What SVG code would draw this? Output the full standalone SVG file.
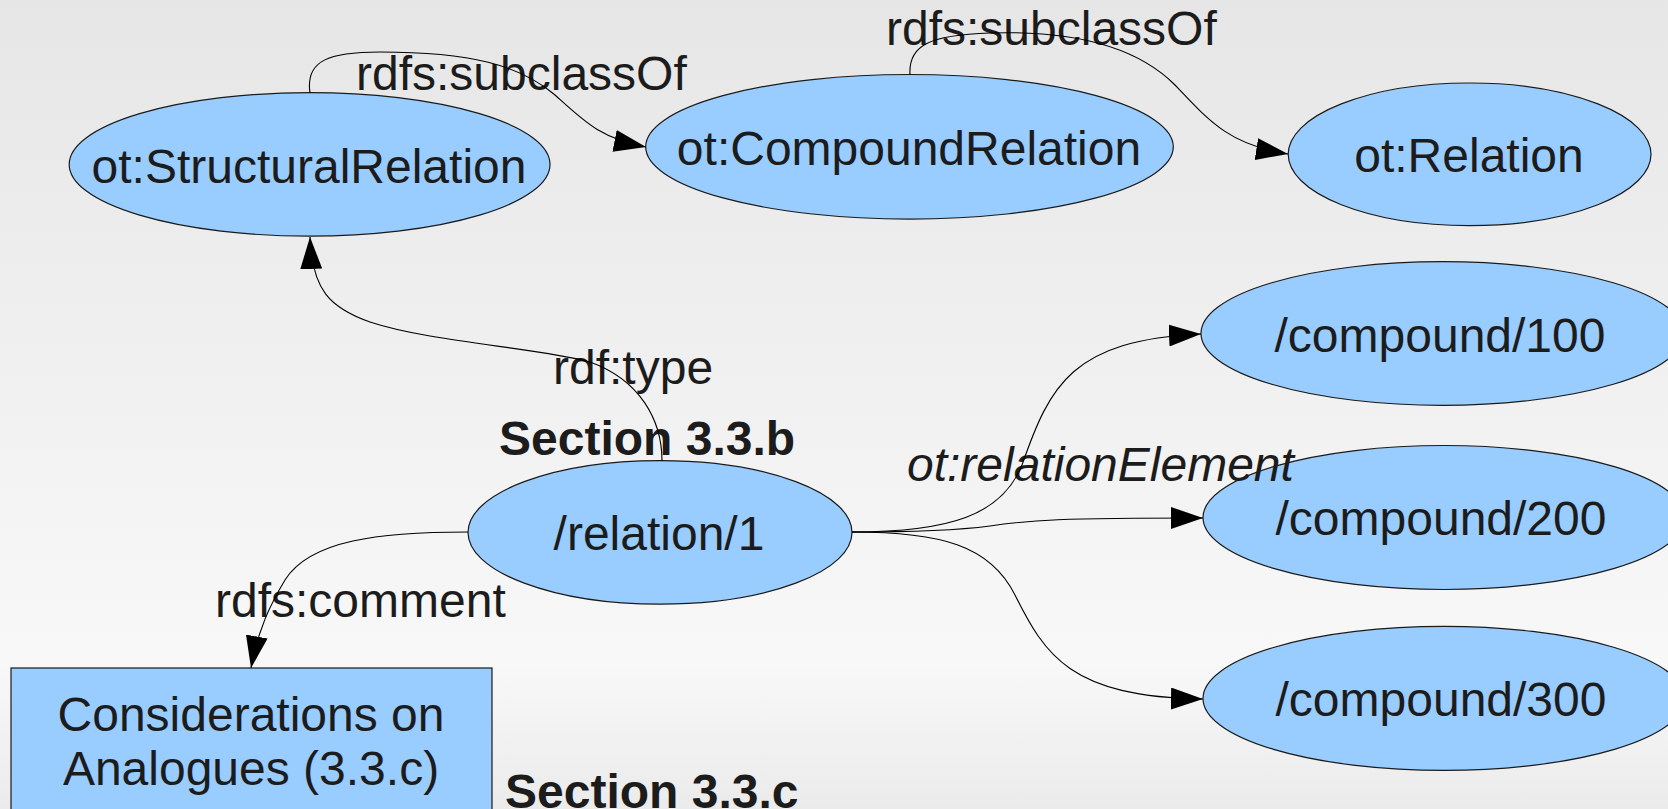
<svg xmlns="http://www.w3.org/2000/svg" width="1668" height="809" viewBox="0 0 1668 809">
<defs>
<linearGradient id="bg" x1="0" y1="0" x2="0" y2="1">
<stop offset="0" stop-color="#e6e6e6"/>
<stop offset="0.82" stop-color="#f8f8f8"/>
<stop offset="1" stop-color="#ebebeb"/>
</linearGradient>
<marker id="arr" viewBox="0 0 32 22" refX="32" refY="11" markerWidth="32" markerHeight="22" markerUnits="userSpaceOnUse" orient="auto">
<path d="M0,0 L32,11 L0,22 z" fill="#000"/>
</marker>
<style>
.node{fill:#99ccff;stroke:#1a1a1a;stroke-width:1.2}
.t{font-family:"Liberation Sans",Arial,sans-serif;font-size:48px;fill:#1c1c1c}
.c{text-anchor:middle}
.b{font-weight:bold}
.i{font-style:italic}
.e{fill:none;stroke:#000;stroke-width:1.1;marker-end:url(#arr)}
</style>
</defs>
<rect x="0" y="0" width="1668" height="809" fill="url(#bg)"/>
<g id="section-b">
<text class="t b" x="499" y="455">Section 3.3.b</text>
</g>
<g id="section-c">
<text class="t b" x="505" y="808">Section 3.3.c</text>
</g>
<g id="n-structural">
<ellipse class="node" cx="309.6" cy="164.4" rx="240.4" ry="71.8"/>
<text class="t c" x="309" y="183">ot:StructuralRelation</text>
</g>
<g id="n-compound">
<ellipse class="node" cx="909.5" cy="146.8" rx="263.8" ry="72.3"/>
<text class="t c" x="909" y="165">ot:CompoundRelation</text>
</g>
<g id="n-relation">
<ellipse class="node" cx="1469.6" cy="154.3" rx="181.4" ry="71.3"/>
<text class="t c" x="1469" y="172">ot:Relation</text>
</g>
<g id="n-c100">
<ellipse class="node" cx="1442.5" cy="333.5" rx="241.5" ry="71.8"/>
<text class="t c" x="1440" y="352">/compound/100</text>
</g>
<g id="n-c200">
<ellipse class="node" cx="1444" cy="517.5" rx="241" ry="72"/>
<text class="t c" x="1441" y="535">/compound/200</text>
</g>
<g id="n-c300">
<ellipse class="node" cx="1444" cy="698.4" rx="241" ry="72"/>
<text class="t c" x="1441" y="716">/compound/300</text>
</g>
<g id="n-rel1">
<ellipse class="node" cx="660" cy="532.4" rx="192" ry="71.8"/>
<text class="t c" x="659" y="550">/relation/1</text>
</g>
<g id="n-considerations">
<rect class="node" x="11" y="668" width="481" height="160"/>
<text class="t c" x="251" y="731">Considerations on</text>
<text class="t c" x="251" y="785">Analogues (3.3.c)</text>
</g>
<g id="connectors">
<text class="t" x="356" y="90">rdfs:subclassOf</text>
<text class="t" x="886" y="45">rdfs:subclassOf</text>
<text class="t" x="553" y="384">rdf:type</text>
<text class="t i" x="907" y="481">ot:relationElement</text>
<text class="t" x="215" y="617">rdfs:comment</text>
<path class="e" d="M310,93 C305,60 330,52 380,52 C470,52 520,65 555,95 C585,122 600,138 646,147"/>
<path class="e" d="M910,75 C908,45 930,35 990,33 C1080,30 1140,50 1175,85 C1210,122 1230,145 1288,154"/>
<path class="e" d="M662,461 C662,420 640,380 590,362 C540,348 430,342 370,322 C330,308 312,290 310,237"/>
<path class="e" d="M852,532 C950,532 1002,515 1022,465 C1050,385 1072,340 1201,334"/>
<path class="e" d="M852,532 C920,532 960,530 990,526 C1030,520 1060,518 1203,518"/>
<path class="e" d="M852,532 C940,532 990,545 1015,595 C1045,655 1070,697 1203,699"/>
<path class="e" d="M468,532 C380,532 310,540 285,580 C270,605 258,630 251,668"/>
</g>
</svg>
